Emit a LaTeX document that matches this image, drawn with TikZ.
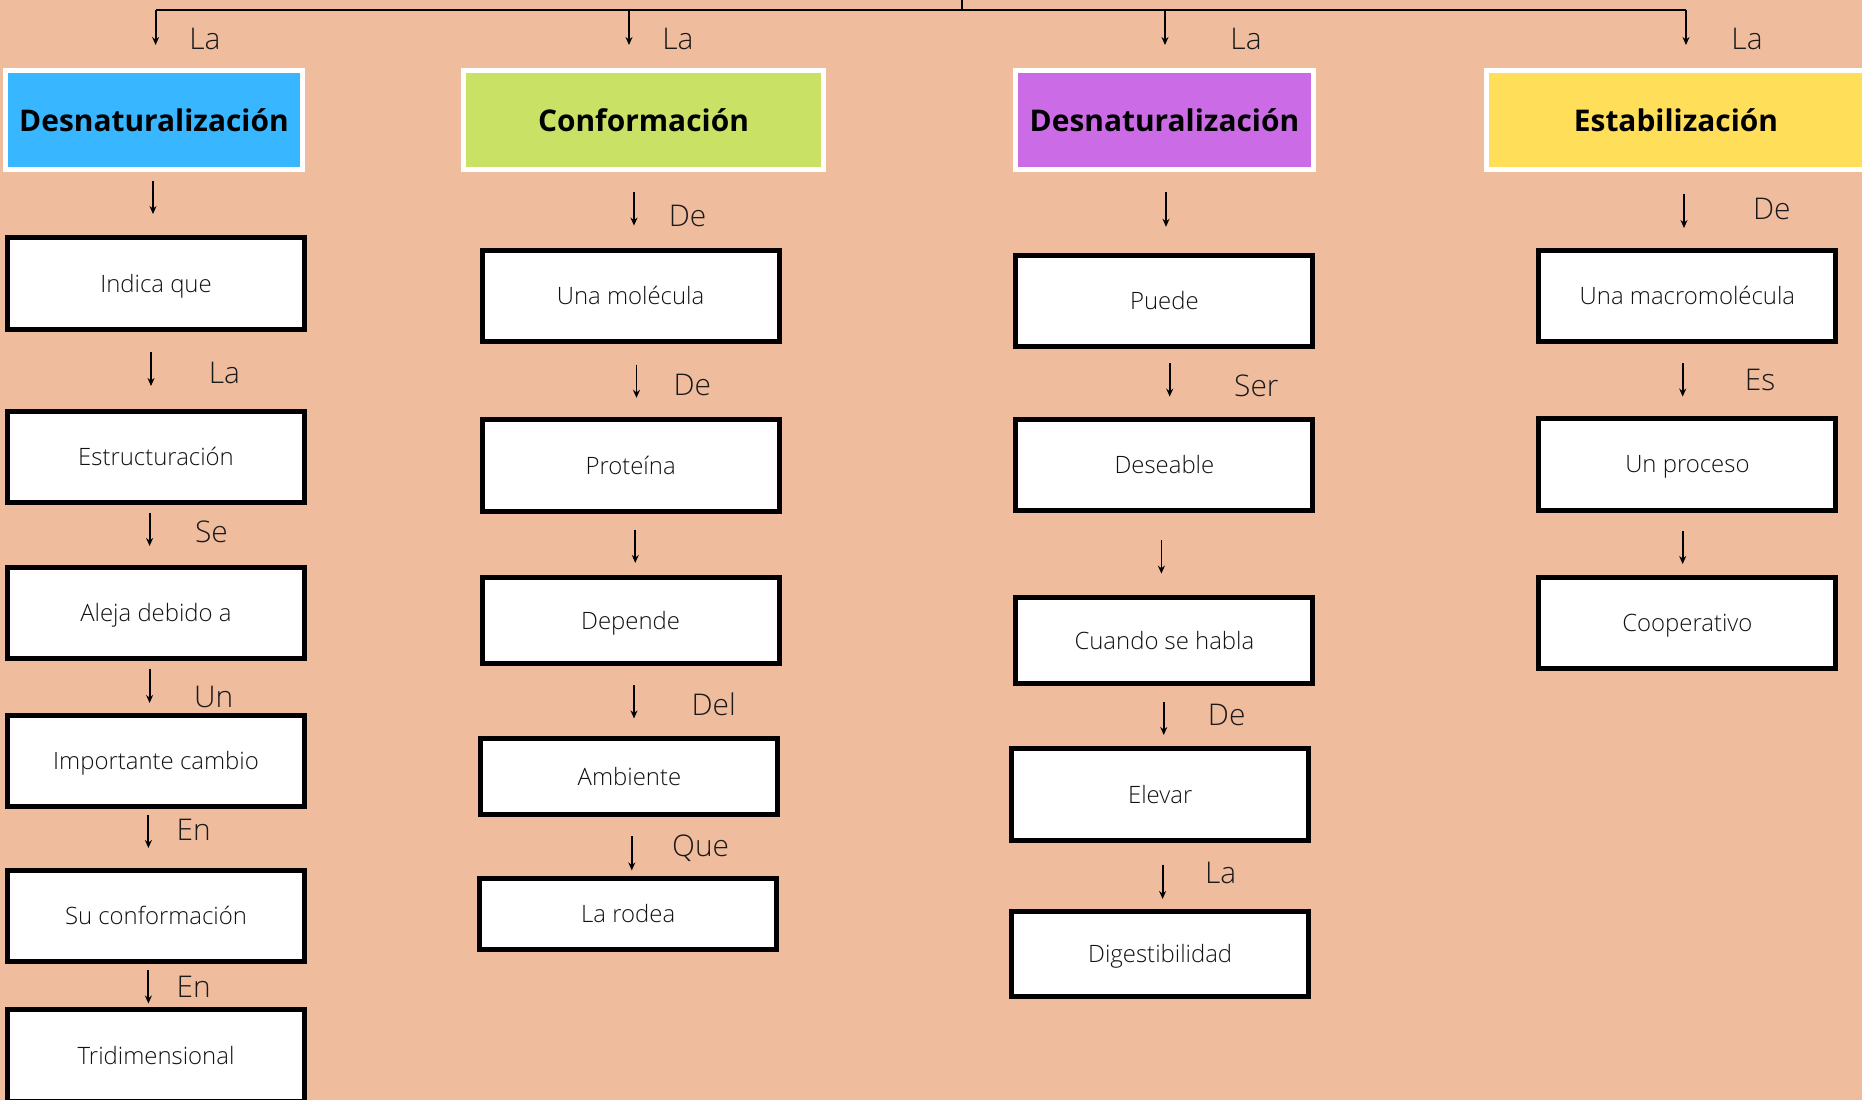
\documentclass[tikz,border=0pt]{standalone}
\usepackage{fontspec}
\setmainfont{Open Sans}
\newfontfamily\lightfont{Open Sans Light}
\usetikzlibrary{arrows.meta}
\definecolor{peach}{HTML}{EFBD9E}
\definecolor{blueh}{HTML}{38B6FF}
\definecolor{greenh}{HTML}{C9E265}
\definecolor{purpleh}{HTML}{CB6CE6}
\definecolor{yellowh}{HTML}{FFDE59}
\definecolor{textgray}{HTML}{111111}
\definecolor{labelgray}{HTML}{1A1A1A}
\tikzset{
  head/.style={draw=white, line width=0.05cm, minimum height=0.99cm, text=black,
    font=\bfseries\fontsize{8.5}{10}\selectfont},
  item/.style={draw=black, fill=white, line width=0.05cm, minimum width=2.97cm,
    minimum height=0.91cm, text=textgray, text height=4.9pt, text depth=0pt,
    font=\lightfont\fontsize{6.8}{8}\selectfont},
  arr/.style={-{Stealth[length=0.08cm,width=0.07cm]}, line width=0.018cm},
  lbl/.style={inner sep=0pt, text=labelgray, font=\lightfont\fontsize{8.5}{10}\selectfont}
}
\begin{document}
\begin{tikzpicture}[x=0.01cm, y=-0.01cm]
        \fill[peach] (0,0) rectangle (1862,1100);
        \useasboundingbox (0,0) rectangle (1862,1100);
        % top bar
        \coordinate (root) at (962,0);
        \coordinate (bar) at (962,10);
        \coordinate (barl) at (155.6,10);
        \coordinate (barr) at (1686,10);
        \draw[line width=0.02cm] (root) -- (bar);
        \draw[line width=0.02cm] (barl) -- (barr);
        \coordinate (t1) at (155.6,45);
        \coordinate (b2) at (629,10);
        \coordinate (t2) at (629,45);
        \coordinate (b3) at (1165,10);
        \coordinate (t3) at (1165,45);
        \coordinate (t4) at (1686,45);
        \draw[arr] (barl) -- (t1);
        \draw[arr] (b2) -- (t2);
        \draw[arr] (b3) -- (t3);
        \draw[arr] (barr) -- (t4);
        \node[lbl] (l1) at (205,39) {La};
        \node[lbl] (l2) at (678,39) {La};
        \node[lbl] (l3) at (1246,39) {La};
        \node[lbl] (l4) at (1747,39) {La};
        % headers
        \node[head, fill=blueh, minimum width=2.96cm] (h1) at (154,120) {Desnaturalización};
        \node[head, fill=greenh, minimum width=3.60cm] (h2) at (643.5,120) {Conformación};
        \node[head, fill=purpleh, minimum width=2.98cm] (h3) at (1164.5,120) {Desnaturalización};
        \node[head, fill=yellowh, minimum width=3.79cm] (h4) at (1676,120) {Estabilización};
        % column 1
        \node[item] (a0) at (156,283.5) {Indica que};
        \node[item] (a1) at (156,456.6) {Estructuración};
        \node[item] (a2) at (156,612.7) {Aleja debido a};
        \node[item] (a3) at (156,760.6) {Importante cambio};
        \node[item] (a4) at (156,915.6) {Su conformación};
        \node[item] (a5) at (156,1055.5) {Tridimensional};
        \coordinate (a0u) at (153,180.5);
        \coordinate (a0w) at (153,214);
        \coordinate (a1u) at (151,351.5);
        \coordinate (a1w) at (151,386);
        \coordinate (a2u) at (149.6,513);
        \coordinate (a2w) at (149.6,546);
        \coordinate (a3u) at (149.6,668.6);
        \coordinate (a3w) at (149.6,703);
        \coordinate (a4u) at (148.4,814.6);
        \coordinate (a4w) at (148.4,848);
        \coordinate (a5u) at (148.4,970);
        \coordinate (a5w) at (148.4,1003.5);
        \draw[arr] (a0u) -- (a0w);
        \draw[arr] (a1u) -- (a1w);
        \draw[arr] (a2u) -- (a2w);
        \draw[arr] (a3u) -- (a3w);
        \draw[arr] (a4u) -- (a4w);
        \draw[arr] (a5u) -- (a5w);
        \node[lbl] (la1) at (224.4,372.9) {La};
        \node[lbl] (la2) at (211.4,532) {Se};
        \node[lbl] (la3) at (213.8,697) {Un};
        \node[lbl] (la4) at (193.6,830) {En};
        \node[lbl] (la5) at (193.6,986.8) {En};
        % column 2
        \node[item] (b0) at (630.6,295.7) {Una molécula};
        \node[item, minimum height=0.92cm] (b1) at (630.6,465.5) {Proteína};
        \node[item, minimum height=0.865cm] (b2) at (630.6,620.5) {Depende};
        \node[item, minimum height=0.76cm] (b3) at (629.4,776.6) {Ambiente};
        \node[item, minimum height=0.71cm] (b4) at (628.2,914) {La rodea};
        \coordinate (b0u) at (634,192.4);
        \coordinate (b0w) at (634,225.6);
        \coordinate (b1u) at (636.5,364.6);
        \coordinate (b1w) at (636.5,397.8);
        \coordinate (b2u) at (635.3,529.6);
        \coordinate (b2w) at (635.3,562.9);
        \coordinate (b3u) at (634,685);
        \coordinate (b3w) at (634,718.4);
        \coordinate (b4u) at (631.8,836);
        \coordinate (b4w) at (631.8,870.4);
        \draw[arr] (b0u) -- (b0w);
        \draw[arr] (b1u) -- (b1w);
        \draw[arr] (b2u) -- (b2w);
        \draw[arr] (b3u) -- (b3w);
        \draw[arr] (b4u) -- (b4w);
        \node[lbl] (lb0) at (687.6,216) {De};
        \node[lbl] (lb1) at (692.3,384.8) {De};
        \node[lbl] (lb3) at (713.7,704.2) {Del};
        \node[lbl] (lb4) at (700.6,847.9) {Que};
        % column 3
        \node[item] (c0) at (1164.4,301) {Puede};
        \node[item] (c1) at (1164.4,465) {Deseable};
        \node[item, minimum height=0.865cm] (c2) at (1164.4,640.7) {Cuando se habla};
        \node[item] (c3) at (1160.2,794.5) {Elevar};
        \node[item, minimum height=0.84cm] (c4) at (1160.2,954) {Digestibilidad};
        \coordinate (c0u) at (1166,192.4);
        \coordinate (c0w) at (1166,226.8);
        \coordinate (c1u) at (1169.7,363.4);
        \coordinate (c1w) at (1169.7,396.6);
        \coordinate (c2u) at (1161.4,540.3);
        \coordinate (c2w) at (1161.4,573.6);
        \coordinate (c3u) at (1163.75,701.8);
        \coordinate (c3w) at (1163.75,735);
        \coordinate (c4u) at (1162.6,864.5);
        \coordinate (c4w) at (1162.6,899);
        \draw[arr] (c0u) -- (c0w);
        \draw[arr] (c1u) -- (c1w);
        \draw[arr] (c2u) -- (c2w);
        \draw[arr] (c3u) -- (c3w);
        \draw[arr] (c4u) -- (c4w);
        \node[lbl] (lc1) at (1256.4,386) {Ser};
        \node[lbl] (lc3) at (1226.7,714.9) {De};
        \node[lbl] (lc4) at (1220.75,872.8) {La};
        % column 4
        \node[item] (e0) at (1687.4,296) {Una macromolécula};
        \node[item, minimum height=0.92cm] (e1) at (1687.4,464.3) {Un proceso};
        \node[item] (e2) at (1687.4,622.9) {Cooperativo};
        \coordinate (e0u) at (1684,193.6);
        \coordinate (e0w) at (1684,228);
        \coordinate (e1u) at (1682.7,363.4);
        \coordinate (e1w) at (1682.7,396.6);
        \coordinate (e2u) at (1682.7,530.8);
        \coordinate (e2w) at (1682.7,564);
        \draw[arr] (e0u) -- (e0w);
        \draw[arr] (e1u) -- (e1w);
        \draw[arr] (e2u) -- (e2w);
        \node[lbl] (le0) at (1771.75,209) {De};
        \node[lbl] (le1) at (1760,380) {Es};
        \end{tikzpicture}
\end{document}
